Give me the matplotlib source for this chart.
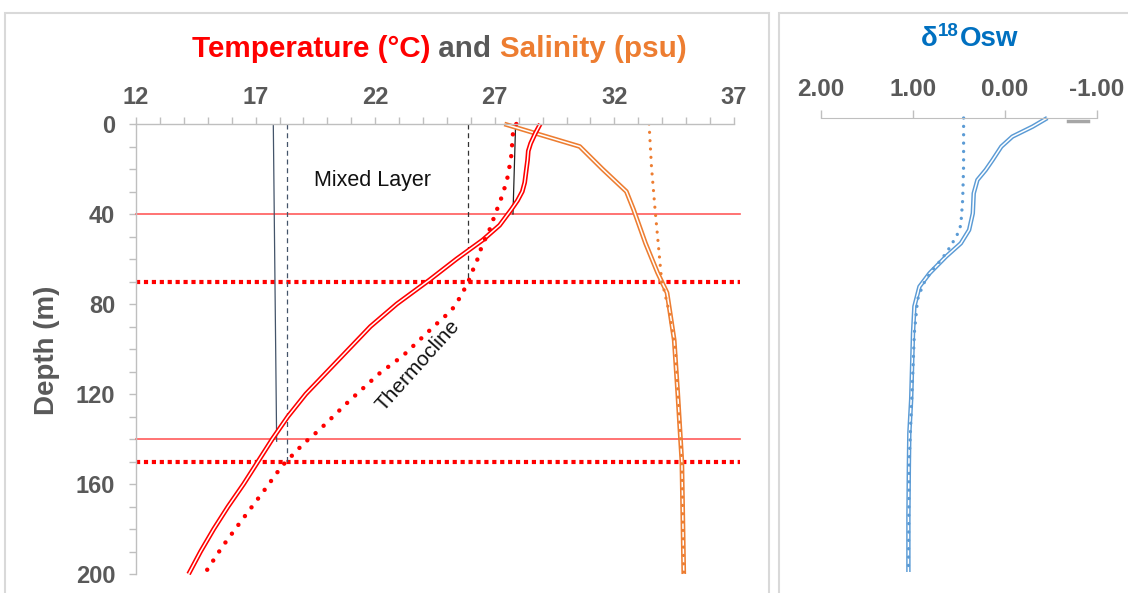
import matplotlib
matplotlib.use('Agg')
import matplotlib.pyplot as plt
from matplotlib.patches import Rectangle
from matplotlib.ticker import MultipleLocator


# temperature profile (double line)
temp_depth = [0, 4, 8.6, 12, 16, 26, 30, 34, 38, 45, 51.6, 60, 69.3, 80, 90, 100, 110, 120, 130, 140, 150, 160, 170, 180, 190, 200]
temp = [28.9, 28.7, 28.5, 28.4, 28.37, 28.25, 28.15, 27.95, 27.69, 27.2, 26.49, 25.4, 24.27, 22.9, 21.8, 20.9, 20.0, 19.1, 18.35, 17.7, 17.1, 16.5, 15.85, 15.25, 14.7, 14.2]

# temperature profile (dotted)
temp2_depth = [0, 4, 14, 23, 31, 40, 49, 53, 61.5, 66.4, 70, 77, 83, 87, 93, 103, 111, 123, 136, 142, 152, 163, 177, 188, 200]
temp2 = [27.9, 27.76, 27.69, 27.55, 27.34, 27.02, 26.71, 26.5, 26.23, 26.02, 25.9, 25.55, 25.18, 24.75, 24.15, 23.16, 22.16, 20.92, 19.66, 19.01, 18.1, 17.35, 16.36, 15.6, 14.86]

# salinity profiles
sal_depth = [0, 10, 20, 30, 38, 53, 66, 75, 96, 120, 150, 200]
sal = [27.4, 30.55, 31.5, 32.5, 32.8, 33.3, 33.8, 34.2, 34.5, 34.65, 34.82, 34.9]
sal2_depth = [0, 19, 38, 69, 84, 100, 150, 200]
sal2 = [33.45, 33.55, 33.7, 33.97, 34.3, 34.55, 34.82, 34.9]

# reference marks
mld_line_t = [27.87, 27.76]
mld_line_d = [0, 40]
thermo_dash_t = 25.9
thermo_dash_d = [0, 70]
deep_solid_t = [17.74, 17.88]
deep_solid_d = [0, 141]
deep_dash_t = 18.3
deep_dash_d = [0, 150]
solid_levels = [40, 140]
dotted_levels = [70, 150]

# d18O seawater
d18_depth = [0, 3.8, 8.2, 12.6, 18.5, 22.9, 27.3, 33.2, 42, 49.3, 55.2, 61, 68.4, 74.3, 83, 94.8, 109.5, 124, 139, 153.7, 175.7, 200]
d18 = [-0.46, -0.30, -0.08, 0.04, 0.135, 0.21, 0.30, 0.34, 0.35, 0.39, 0.48, 0.64, 0.82, 0.93, 0.985, 1.0, 1.01, 1.02, 1.04, 1.045, 1.05, 1.05]
d18b_depth = [0, 21, 36, 47, 50.3, 56.4, 62.3, 67.4, 73.3, 79.9, 94.6, 120, 150, 200]
d18b = [0.45, 0.45, 0.46, 0.48, 0.505, 0.59, 0.69, 0.80, 0.89, 0.95, 0.985, 1.01, 1.04, 1.05]
gray_dash_v = [-0.68, -0.9]
gray_dash_d = [1.2, 1.2]

x_ticks = [12, 17, 22, 27, 32, 37]
y_ticks = [0, 40, 80, 120, 160, 200]
d18_ticks = [2.0, 1.0, 0.0, -1.0]

RED = '#FF0000'
ORANGE = '#ED7D31'
BLUE = '#5B9BD5'
GRAY = '#595959'
NAVY = '#44546A'
FONT = ['Liberation Sans', 'DejaVu Sans']

plt.rcParams['font.family'] = FONT

W, H = 1128, 593
fig = plt.figure(figsize=(W / 100, H / 100), dpi=100)


def fx(px):
    return px / W


def fy(py):
    return 1 - py / H


# panel frames
fig.patches.append(Rectangle((fx(5), fy(600)), fx(764), fy(13) - fy(600), transform=fig.transFigure,
                             fill=False, edgecolor='#D9D9D9', lw=1.5))
fig.patches.append(Rectangle((fx(779), fy(600)), fx(360), fy(13) - fy(600), transform=fig.transFigure,
                             fill=False, edgecolor='#D9D9D9', lw=1.5))


def double_line(ax, x, y, color, outer=3.4, inner=1.1):
    ax.plot(x, y, color=color, lw=outer, solid_joinstyle='round', solid_capstyle='butt', clip_on=False)
    ax.plot(x, y, color='white', lw=inner, solid_joinstyle='round', solid_capstyle='butt', clip_on=False)


# ---- left panel ----
ax = fig.add_axes([fx(136), fy(574), fx(734) - fx(136), fy(124) - fy(574)])
ax.set_xlim(12, 37)
ax.set_ylim(200, 0)

for d in solid_levels:
    ax.plot([12, 37.25], [d, d], color='#FF5B5B', lw=1.2, clip_on=False)
for d in dotted_levels:
    ax.plot([12, 37.25], [d, d], color=RED, lw=3, linestyle=(0, (1, 0.9)), clip_on=False)

ax.plot(deep_solid_t, deep_solid_d, color=NAVY, lw=0.9)
ax.plot([deep_dash_t] * 2, deep_dash_d, color=NAVY, lw=0.9, linestyle=(0, (4, 3)))
ax.plot([thermo_dash_t] * 2, thermo_dash_d, color='#333333', lw=0.9, linestyle=(0, (4, 3)))
ax.plot(mld_line_t, mld_line_d, color='#222222', lw=0.9)

double_line(ax, sal, sal_depth, ORANGE)
ax.plot(sal2, sal2_depth, color=ORANGE, lw=2.3, linestyle=(0, (0.01, 2.6)), dash_capstyle='round')
double_line(ax, temp, temp_depth, RED)
ax.plot(temp2, temp2_depth, color=RED, lw=3.2, linestyle=(0, (0.01, 2.45)), dash_capstyle='round', clip_on=False)

ax.text(21.9, 25.3, 'Mixed Layer', fontsize=15.5, ha='center', va='center', color='#111111')
ax.text(23.8, 107.5, 'Thermocline', fontsize=15, ha='center', va='center', rotation=48,
        rotation_mode='anchor', color='#111111')

ax.xaxis.tick_top()
ax.set_xticks(x_ticks)
ax.xaxis.set_minor_locator(MultipleLocator(1))
ax.set_yticks(y_ticks)
ax.yaxis.set_minor_locator(MultipleLocator(10))
ax.tick_params(axis='x', which='both', direction='out', length=5, color='#BFBFBF', width=1,
               labelsize=17, labelcolor=GRAY, pad=6)
ax.tick_params(axis='y', which='both', direction='out', length=5, color='#BFBFBF', width=1,
               labelsize=17, labelcolor=GRAY, pad=10)
for lab in ax.get_xticklabels() + ax.get_yticklabels():
    lab.set_fontweight('bold')
for s in ['right', 'bottom']:
    ax.spines[s].set_visible(False)
for s in ['top', 'left']:
    ax.spines[s].set_color('#BFBFBF')
    ax.spines[s].set_linewidth(1)
ax.patch.set_alpha(0)

fig.text(fx(47), fy(350), 'Depth (m)', rotation=90, ha='center', va='center',
         fontsize=20, fontweight='bold', color=GRAY)

# title in three colours, placed one after the other
fig.canvas.draw()
r = fig.canvas.get_renderer()
x_pos = fx(192)
for txt, col in [('Temperature (°C)', RED), (' and ', GRAY), ('Salinity (psu)', ORANGE)]:
    t = fig.text(x_pos, fy(57), txt, fontsize=21.3, fontweight='bold', color=col, va='baseline')
    x_pos = t.get_window_extent(r).x1 / W

# ---- right panel ----
ax2 = fig.add_axes([fx(821), fy(572), fx(1097) - fx(821), fy(118) - fy(572)])
ax2.set_xlim(2, -1)
ax2.set_ylim(200, 0)
double_line(ax2, d18, d18_depth, BLUE, outer=3.2, inner=1.1)
ax2.plot(d18b, d18b_depth, color=BLUE, lw=2.4, linestyle=(0, (0.01, 2.5)), dash_capstyle='round', clip_on=False)
ax2.plot(gray_dash_v, gray_dash_d, color='#A6A6A6', lw=2.5, clip_on=False)

ax2.xaxis.tick_top()
ax2.set_xticks(d18_ticks)
ax2.set_xticklabels(['%.2f' % v for v in d18_ticks])
ax2.set_yticks([])
ax2.tick_params(axis='x', direction='out', length=6, color='#BFBFBF', width=1,
                labelsize=17.5, labelcolor=GRAY, pad=6)
for lab in ax2.get_xticklabels():
    lab.set_fontweight('bold')
for s in ['right', 'bottom', 'left']:
    ax2.spines[s].set_visible(False)
ax2.spines['top'].set_color('#BFBFBF')
ax2.patch.set_alpha(0)

# d18Osw title with raised 18
x_pos = fx(921)
for txt, size, base in [('δ', 20, 46.5), ('18', 13.5, 36), ('Osw', 20, 46.5)]:
    t = fig.text(x_pos, fy(base), txt, fontsize=size, fontweight='bold', color='#0070C0', va='baseline')
    x_pos = t.get_window_extent(r).x1 / W + 0.0005

fig.savefig('out.png', dpi=100)
